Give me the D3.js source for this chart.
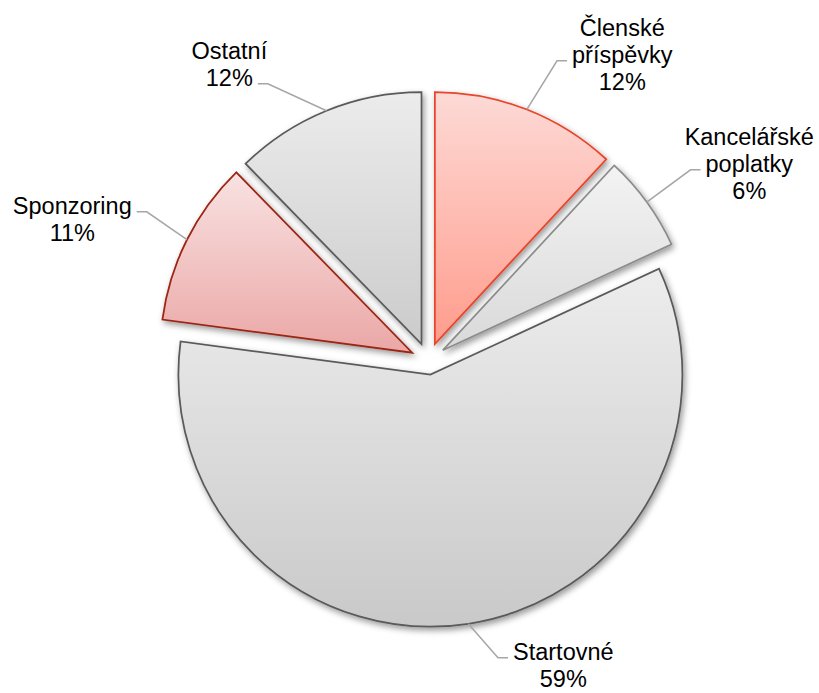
<!DOCTYPE html>
<html>
<head>
<meta charset="utf-8">
<script src="https://cdn.jsdelivr.net/npm/d3@7"></script>
<style>
  html, body { margin: 0; padding: 0; background: #fff; }
  #chart { width: 819px; height: 693px; }
  text { font-family: "Liberation Sans", Arial, sans-serif; fill: #000; }
</style>
</head>
<body>
<div id="chart"></div>
<script>
// data
var categories = ["Členské příspěvky", "Kancelářské poplatky", "Startovné", "Sponzoring", "Ostatní"];
var labelLines = [["Členské", "příspěvky"], ["Kancelářské", "poplatky"], ["Startovné"], ["Sponzoring"], ["Ostatní"]];
var values = [11.9, 6.2, 59.0, 10.6, 12.3];

// styles per slice
var gradTop = ["#fddad6", "#f3f3f3", "#ededed", "#f9e2e2", "#ececec"];
var gradBottom = ["#ff9c8c", "#d9d9d9", "#c9c9c9", "#eaa7a6", "#cbcbcb"];
var strokes = ["#e8442b", "#8c8c8c", "#5a5a5a", "#9b2613", "#5a5a5a"];
var explode = [18, 18, 14, 18, 18];
// label block (center x, first baseline) relative to pie center; leader attaches to this line
var labelAt = [[194, -325], [321, -216], [135, 299], [-356, -147], [-199, -302]];
var leaderLine = [1, 1, 0, 0, 1];

function render_pie_chart() {
    var width = 819, height = 693,
        cx = 428.3, cy = 360.8,
        radius = 252,
        lineH = 27;

    var svg = d3.select("#chart")
        .append("svg")
        .attr("width", width)
        .attr("height", height);

    var defs = svg.append("defs");

    // soft drop shadow like the office chart
    var f = defs.append("filter")
        .attr("id", "shadow")
        .attr("x", "-20%").attr("y", "-20%")
        .attr("width", "140%").attr("height", "140%");
    f.append("feDropShadow")
        .attr("dx", 2).attr("dy", 3)
        .attr("stdDeviation", 3)
        .attr("flood-color", "#000")
        .attr("flood-opacity", 0.4);

    values.forEach(function(v, i) {
        var lg = defs.append("linearGradient")
            .attr("id", "grad" + i)
            .attr("x1", 0).attr("y1", 0)
            .attr("x2", 0).attr("y2", 1);
        lg.append("stop").attr("offset", "0%").attr("stop-color", gradTop[i]);
        lg.append("stop").attr("offset", "100%").attr("stop-color", gradBottom[i]);
    });

    var pie = d3.pie()
        .sort(null)
        .value(function(d) { return d; });

    var data_ready = pie(values);
    var total = d3.sum(values);

    var arcGenerator = d3.arc()
        .innerRadius(0)
        .outerRadius(radius);

    function mid(d) { return (d.startAngle + d.endAngle) / 2; }

    // offset of each exploded slice
    var offs = data_ready.map(function(d, i) {
        var a = mid(d);
        return [cx + explode[i] * Math.sin(a), cy - explode[i] * Math.cos(a)];
    });

    // slices
    svg.selectAll("g.slice")
        .data(data_ready)
        .enter()
        .append("g")
        .attr("class", "slice")
        .attr("transform", function(d, i) { return "translate(" + offs[i][0] + "," + offs[i][1] + ")"; })
        .append("path")
        .attr("d", arcGenerator)
        .attr("fill", function(d, i) { return "url(#grad" + i + ")"; })
        .attr("stroke", function(d, i) { return strokes[i]; })
        .attr("stroke-width", 1.75)
        .attr("stroke-linejoin", "miter")
        .attr("filter", "url(#shadow)");

    // labels
    var labels = svg.selectAll("text.lbl")
        .data(data_ready)
        .enter()
        .append("text")
        .attr("class", "lbl")
        .attr("text-anchor", "middle")
        .style("font-size", "23.5px");

    labels.each(function(d, i) {
        var t = d3.select(this);
        var lines = labelLines[i].concat([Math.round(d.value / total * 100) + "%"]);
        lines.forEach(function(s, k) {
            t.append("tspan")
                .attr("x", cx + labelAt[i][0])
                .attr("y", cy + labelAt[i][1] + k * lineH)
                .text(s);
        });
    });

    // leader lines
    labels.each(function(d, i) {
        var tsp = d3.select(this).selectAll("tspan").nodes()[leaderLine[i]];
        var w = tsp.getComputedTextLength();
        var lx = cx + labelAt[i][0];
        var ly = cy + labelAt[i][1] + leaderLine[i] * lineH - 2;
        var a = mid(d);
        var sx = offs[i][0] + radius * Math.sin(a),
            sy = offs[i][1] - radius * Math.cos(a);
        var ex, bx;
        if (labelAt[i][0] > 0) {
            ex = lx - w / 2 - 5; bx = ex - 10;
        } else {
            ex = lx + w / 2 + 5; bx = ex + 10;
        }
        svg.insert("path", "text")
            .attr("d", d3.line()([[sx, sy], [bx, ly], [ex, ly]]))
            .attr("fill", "none")
            .attr("stroke", "#a6a6a6")
            .attr("stroke-width", 1.5);
    });
}

render_pie_chart();
</script>
</body>
</html>
